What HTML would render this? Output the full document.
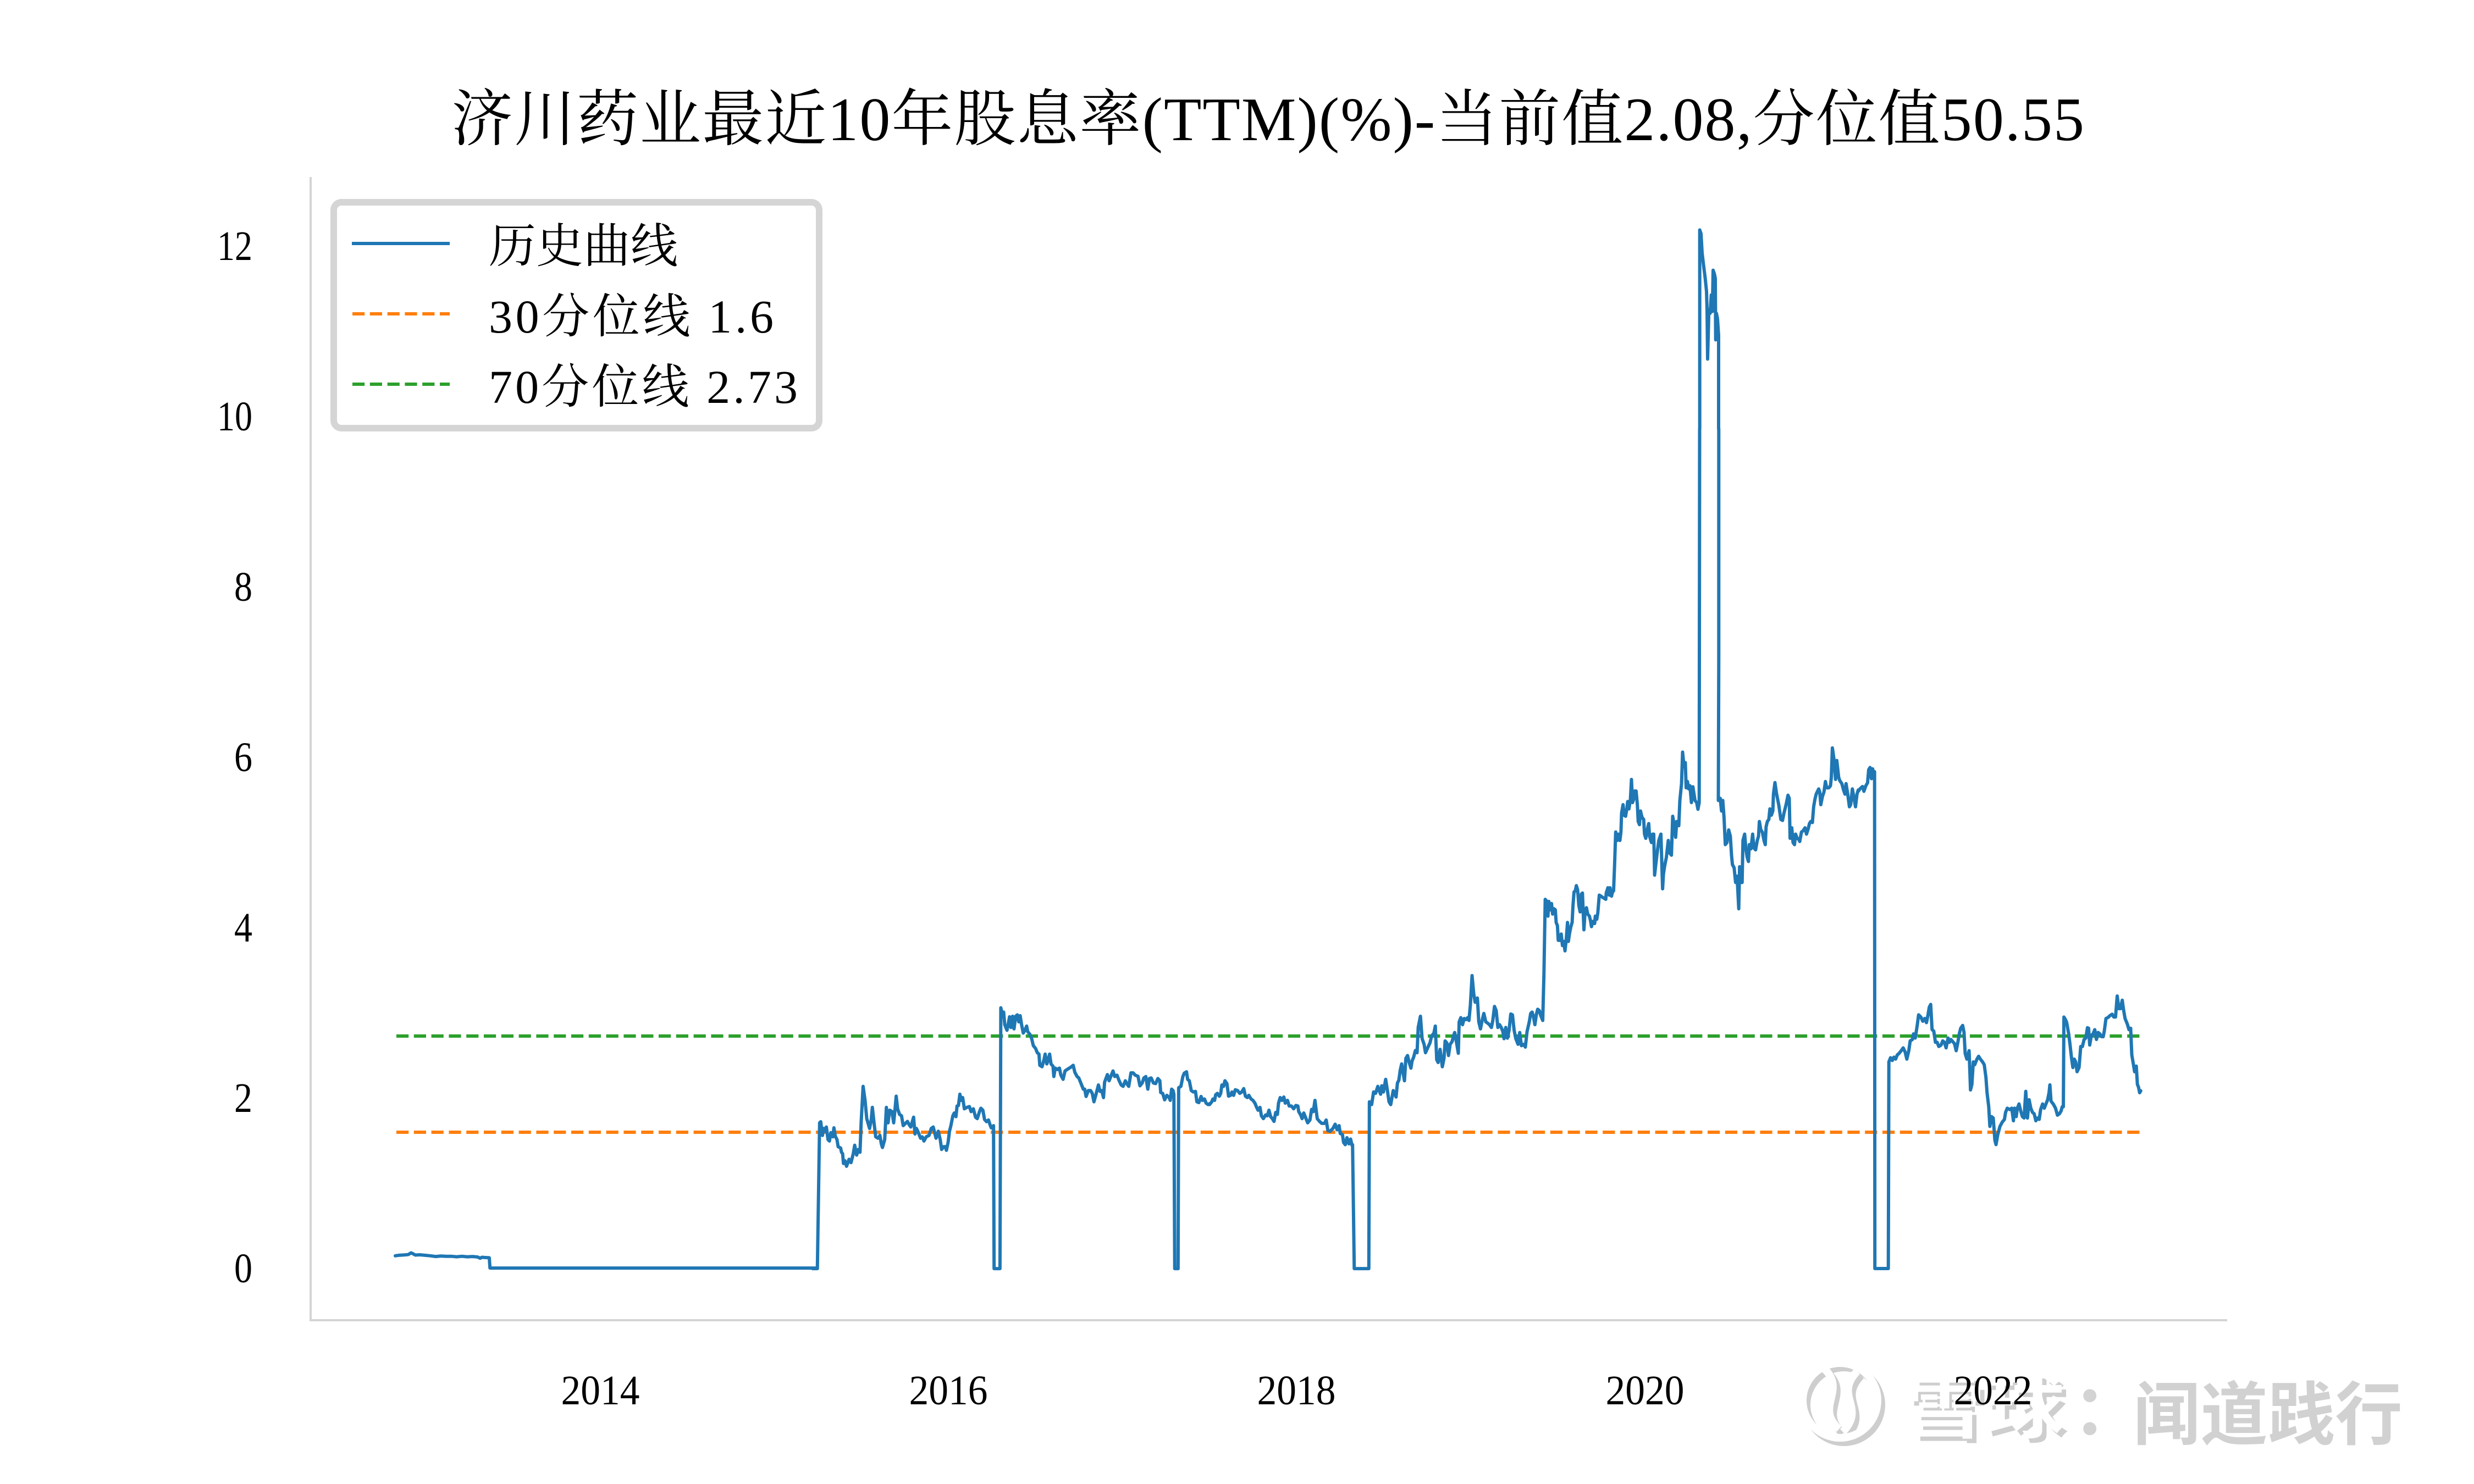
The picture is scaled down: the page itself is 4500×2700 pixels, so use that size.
<!DOCTYPE html>
<html>
<head>
<meta charset="utf-8">
<style>
  html, body { margin: 0; padding: 0; background: #ffffff; }
  svg { display: block; }
  .serif { font-family: "Liberation Serif", "Noto Serif CJK SC", serif; }
  .wm { font-family: "Liberation Sans", "Noto Sans CJK SC", sans-serif; font-weight: bold; }
</style>
</head>
<body>
<svg width="4500" height="2700" viewBox="0 0 4500 2700" xmlns="http://www.w3.org/2000/svg">
  <rect x="0" y="0" width="4500" height="2700" fill="#ffffff"/>

  <!-- Title -->
  <text class="serif" x="2306" y="255" text-anchor="middle" font-size="112" fill="#000" textLength="2970" lengthAdjust="spacing">济川药业最近10年股息率(TTM)(%)-当前值2.08,分位值50.55</text>

  <!-- Spines -->
  <line x1="565" y1="322" x2="565" y2="2402" stroke="#d4d4d4" stroke-width="4"/>
  <line x1="563" y1="2402" x2="4051" y2="2402" stroke="#d4d4d4" stroke-width="4"/>

  <!-- Percentile lines -->
  <line x1="721" y1="2060" x2="3892" y2="2060" stroke="#ff7f0e" stroke-width="6" stroke-dasharray="22.2 9.6"/>
  <line x1="721" y1="1885" x2="3892" y2="1885" stroke="#2ca02c" stroke-width="6" stroke-dasharray="22.2 9.6"/>

  <!-- Data series -->
  <g fill="none" stroke="#1f77b4" stroke-linejoin="round" stroke-linecap="round">
    <polyline vector-effect="non-scaling-stroke" stroke-width="6" transform="translate(550,1950) scale(0.6378,0.4464)"
      points="265,750 275,748 285,747 295,746 302,745 310,738 316,742 322,747 335,746 350,748 365,750 380,753 395,751 410,752 425,752 440,754 455,752 470,754 485,753 500,755 507,760 512,756 520,757 533,758 535,800 1468,800"/>
    <polyline vector-effect="non-scaling-stroke" stroke-width="6" transform="translate(1450,1650) scale(0.5102)"
      points="55,1290 72,1290 80,770 84,766 90,815 95,790 100,800 104,785 110,830 115,835 120,805 127,820 131,788 136,818 142,830 146,855 155,860 158,875 162,880 165,915 170,905 176,925 185,900 192,912 200,880 205,850 212,885 218,865 224,875 228,770 235,640 242,690 248,755 258,790 264,760 268,715 274,770 280,820 288,825 295,815 300,845 304,858 312,830 318,715 324,770 330,725 338,730 344,770 349,720 353,675 358,720 365,740 372,745 378,780 388,770 393,765 400,778 405,785 415,750 420,810 425,790 430,800 440,825 446,820 452,835 460,820 470,815 478,790 485,785 495,825 503,800 510,830 515,865 522,855 528,855 532,868 538,840 543,800 548,780 555,745 560,735 566,748 570,710 575,708 580,668 585,690 590,680 596,720 605,715 614,712 620,730 628,720 636,750 642,755 650,730 655,718 662,725 668,758 675,766 682,760 688,778 692,788 700,780 702,1290 723,1290 726,360 731,380 736,375 740,420 748,440 753,415 757,392 762,430 768,390 773,435 779,390 785,385 790,410 795,388 800,420 806,450 812,440 818,425 822,445 830,455 836,470 842,495 850,505 856,520 862,525 865,565 873,570 880,545 884,525 890,560 895,545 900,525 905,560 912,568 915,605 920,575 928,580 935,575 940,600 948,615 955,585 962,580 975,572 984,565 990,590 998,605 1004,610 1012,630 1020,650 1025,650 1030,676 1038,655 1046,655 1052,665 1058,695 1065,670 1074,635 1080,658 1086,655 1092,680 1096,625 1106,598 1112,620 1120,600 1126,585 1132,605 1140,600 1148,620 1155,635 1162,640 1170,620 1175,630 1182,640 1190,592 1198,592 1205,600 1215,604 1222,638 1230,628 1236,610 1243,605 1250,650 1256,612 1262,610 1270,628 1278,630 1286,612 1293,620 1296,662 1303,665 1310,688 1318,672 1326,680 1330,690 1335,650 1340,655 1343,668 1346,1290 1358,1290 1360,645 1368,640 1375,605 1380,593 1388,588 1392,615 1398,620 1405,655 1412,660 1420,658 1425,695 1432,698 1440,676 1445,690 1452,685 1458,700 1465,705 1470,702"/>
    <polyline vector-effect="non-scaling-stroke" stroke-width="6" transform="translate(2200,1650) scale(0.5102)"
      points="0,705 8,695 12,685 18,690 22,670 28,665 35,675 40,665 44,635 50,640 55,620 62,630 68,675 75,672 80,660 86,672 92,652 100,655 108,665 115,660 122,648 128,675 135,680 140,672 148,685 155,690 162,700 168,715 173,725 180,715 185,745 192,755 200,742 206,745 212,725 218,748 224,755 230,765 236,733 242,740 246,700 252,680 258,690 265,678 270,700 278,690 284,710 292,710 300,720 308,708 315,710 318,730 325,742 330,755 336,735 342,750 350,770 358,760 364,722 370,730 376,690 384,755 392,765 400,772 410,772 416,760 422,798 430,800 440,790 448,775 455,795 462,780 466,808 474,812 478,840 484,848 490,823 497,845 503,828 508,850 510,848 516,1290 568,1290 570,695 578,705 585,660 592,665 600,640 605,655 610,668 614,638 620,660 628,615 635,660 640,695 646,705 655,655 660,665 665,678 670,628 675,618 680,582 685,560 690,590 695,620 700,540 706,530 712,555 718,575 722,550 728,535 734,512 740,520 744,430 752,390 758,470 765,490 770,520 778,502 786,485 792,460 800,450 805,425 810,545 815,555 822,508 830,570 836,540 840,478 846,485 852,530 858,490 865,480 870,460 874,448 880,480 887,522 890,410 896,395 902,420 908,398 915,402 920,395 925,405 930,350 936,245 942,310 947,340 955,325 960,410 966,435 972,405 978,380 985,410 992,415 998,420 1005,430 1010,405 1016,355 1022,370 1028,430 1034,420 1040,430 1046,445 1050,470 1056,430 1062,468 1068,440 1074,382 1080,385 1086,440 1092,470 1100,490 1106,448 1112,495 1120,490 1126,500 1132,445 1140,410 1145,380 1150,375 1155,392 1160,420 1165,385 1170,365 1176,370 1180,385 1188,405 1192,250"/>
    <polyline vector-effect="non-scaling-stroke" stroke-width="6" transform="translate(2780,1200) scale(0.38265)"
      points="73.7,1510 80,1140 88,1150 93,1220 97,1150 103,1190 110,1160 115,1210 122,1185 128,1190 132,1250 138,1265 142,1335 150,1335 156,1305 162,1360 168,1340 174,1385 180,1330 186,1250 190,1340 196,1300 202,1270 208,1250 212,1170 217,1105 223,1100 228,1075 234,1095 240,1170 246,1200 252,1115 257,1110 264,1285 270,1190 276,1180 282,1210 290,1220 295,1240 300,1270 306,1245 315,1255 318,1220 325,1235 330,1205 337,1120 345,1125 352,1130 360,1135 368,1140 370,1110 378,1085 384,1120 388,1085 395,1125 400,1105 405,1100 410,970 415,820 422,860 428,830 435,860 440,820 443,730 450,690 455,740 462,745 468,710 472,675 478,710 485,665 490,570 495,680 500,665 505,625 512,625 518,690 522,770 528,785 533,720 540,750 548,760 552,830 558,850 565,810 572,780 576,840 585,870 590,830 596,830 600,1025 605,980 612,920 620,860 630,830 638,1090 642,1020 648,980 656,940 665,860 672,920 680,930 686,745 692,780 700,845 705,770 715,790 720,670 728,590 733,440 740,510 746,490 750,610 756,580 762,615 768,600 775,680 782,605 792,670 800,680 806,712 812,680 814,-1097"/>
    <polyline vector-effect="non-scaling-stroke" stroke-width="6" transform="translate(2950,380) scale(0.33333)"
      points="425,1200 425,115 432,135 438,240 445,300 455,380 462,450 465,550 468,820 475,550 482,570 488,470 494,560 498,335 505,355 510,380 512,715 516,570 522,600 528,690 528,1200"/>
    <polyline vector-effect="non-scaling-stroke" stroke-width="6" transform="translate(2780,1200) scale(0.38265)"
      points="905,-1097 905,0 903,670 912,660 918,720 924,670 930,750 936,880 944,870 952,810 960,840 966,935 970,975 978,990 985,1060 992,1030 1000,1185 1004,985 1010,1060 1016,1060 1020,860 1028,830 1034,900 1040,940 1046,960 1050,880 1058,900 1066,830 1072,895 1080,905 1088,860 1094,840 1098,770 1105,810 1112,820 1120,860 1126,880 1130,795 1136,770 1143,760 1148,710 1155,740 1162,720 1165,640 1172,585 1180,640 1190,690 1200,760 1208,765 1215,730 1225,690 1234,645 1240,660 1244,850 1252,800 1258,870 1265,880 1270,830 1278,850 1285,855 1290,865 1298,820 1305,815 1315,800 1322,830 1330,805 1336,780 1342,770 1350,775 1356,700 1362,665 1368,640 1375,625 1380,615 1385,630 1390,690 1398,650 1405,630 1412,580 1418,610 1428,610 1436,600 1440,560 1445,420 1452,470 1460,570 1466,480 1475,560 1480,575 1490,590 1498,620 1505,640 1510,590 1518,640 1526,700 1532,690 1540,615 1548,660 1555,700 1562,640 1568,620"/>
    <polyline vector-effect="non-scaling-stroke" stroke-width="6" transform="translate(3250,1330) scale(0.5102)"
      points="255,215 262,205 270,198 275,215 282,195 288,185 292,138 297,130 302,170 306,135 310,150 313,145 314,1917 362,1917 364,1180 370,1165 376,1175 382,1163 388,1170 394,1155 400,1150 408,1140 415,1130 422,1145 428,1170 435,1140 440,1105 448,1100 452,1080 458,1095 465,1050 470,1012 478,1020 485,1035 492,1025 498,1040 503,1015 508,985 513,975 518,1065 524,1070 530,1110 536,1110 542,1125 550,1120 556,1105 562,1110 568,1130 575,1095 580,1110 585,1100 592,1108 598,1115 604,1140 610,1110 615,1080 620,1060 627,1050 632,1075 636,1150 642,1170 650,1140 655,1280 660,1260 665,1180 670,1190 678,1170 684,1160 690,1170 698,1180 704,1190 710,1235 714,1290 720,1340 724,1410 730,1375 736,1380 742,1460 746,1475 752,1440 760,1410 768,1395 776,1385 780,1360 786,1345 795,1350 802,1345 808,1390 812,1345 818,1375 822,1345 828,1330 834,1355 840,1375 846,1380 852,1285 858,1380 864,1315 870,1345 876,1360 882,1365 888,1390 894,1380 900,1385 905,1350 912,1330 918,1345 924,1330 930,1315 935,1290 938,1262 942,1320 950,1330 958,1345 965,1370 972,1365 978,1355 982,1340 986,1340 988,1020 994,1030 998,1040 1005,1080 1010,1120 1015,1165 1020,1200 1025,1170 1030,1180 1035,1215 1042,1200 1048,1125 1054,1125 1060,1100 1066,1095 1072,1058 1076,1060 1080,1120 1086,1085 1092,1080 1098,1065 1104,1100 1110,1075 1116,1080 1122,1090 1128,1090 1132,1070 1138,1025 1145,1022 1152,1015 1160,1010 1166,1020 1172,1020 1178,945 1184,990 1190,990 1196,960 1200,990 1206,1025 1214,1045 1220,1065 1226,1060 1230,1155 1236,1190 1240,1215 1246,1195 1250,1260 1254,1270 1258,1290 1262,1283"/>
  </g>

  <!-- Legend -->
  <rect x="607" y="368" width="883" height="411" rx="14" ry="14" fill="#ffffff" stroke="#d5d5d5" stroke-width="12"/>
  <line x1="640" y1="443" x2="818" y2="443" stroke="#1f77b4" stroke-width="6"/>
  <line x1="641" y1="571" x2="818" y2="571" stroke="#ff7f0e" stroke-width="6" stroke-dasharray="22.2 9.6"/>
  <line x1="641" y1="699" x2="818" y2="699" stroke="#2ca02c" stroke-width="6" stroke-dasharray="22.2 9.6"/>
  <text class="serif" x="889" y="477" font-size="86" fill="#000" textLength="344" lengthAdjust="spacing">历史曲线</text>
  <text class="serif" x="889" y="605" font-size="86" fill="#000" textLength="518" lengthAdjust="spacing">30分位线 1.6</text>
  <text class="serif" x="889" y="733" font-size="86" fill="#000" textLength="562" lengthAdjust="spacing">70分位线 2.73</text>

  <!-- Watermark -->
  <g opacity="0.9">
    <g fill="none" stroke="#c9c9c9" stroke-width="14" transform="translate(7,8)">
      <circle cx="3347" cy="2548" r="68"/>
      <path d="M3318,2490 C3360,2530 3300,2560 3345,2600 M3378,2495 C3335,2540 3395,2560 3352,2605"/>
    </g>
    <g fill="none" stroke="#ffffff" stroke-width="14">
      <circle cx="3347" cy="2548" r="68"/>
      <path d="M3318,2490 C3360,2530 3300,2560 3345,2600 M3378,2495 C3335,2540 3395,2560 3352,2605"/>
    </g>
    <text class="wm" x="3473" y="2614" font-size="125" fill="#c9c9c9" textLength="290" lengthAdjust="spacingAndGlyphs">雪球</text>
    <text class="wm" x="3465" y="2606" font-size="125" fill="#ffffff" textLength="290" lengthAdjust="spacingAndGlyphs">雪球</text>
    <text class="wm" x="3770" y="2610" font-size="125" fill="#cfcfcf">：</text>
    <text class="wm" x="3872" y="2612" font-size="125" fill="#ffffff" textLength="490" lengthAdjust="spacingAndGlyphs">闻道践行</text>
    <text class="wm" x="3880" y="2618" font-size="125" fill="#cdcdcd" textLength="490" lengthAdjust="spacingAndGlyphs">闻道践行</text>
  </g>

  <!-- Y tick labels -->
  <g class="serif" font-size="76" fill="#000" text-anchor="end">
    <text x="459" y="2333" textLength="33" lengthAdjust="spacingAndGlyphs">0</text>
    <text x="459" y="2023" textLength="33" lengthAdjust="spacingAndGlyphs">2</text>
    <text x="459" y="1713" textLength="33" lengthAdjust="spacingAndGlyphs">4</text>
    <text x="459" y="1403" textLength="33" lengthAdjust="spacingAndGlyphs">6</text>
    <text x="459" y="1093" textLength="33" lengthAdjust="spacingAndGlyphs">8</text>
    <text x="459" y="783" textLength="64" lengthAdjust="spacingAndGlyphs">10</text>
    <text x="459" y="473" textLength="64" lengthAdjust="spacingAndGlyphs">12</text>
  </g>

  <!-- X tick labels -->
  <g class="serif" font-size="76" fill="#000" text-anchor="middle">
    <text x="1092" y="2555" textLength="143" lengthAdjust="spacingAndGlyphs">2014</text>
    <text x="1725" y="2555" textLength="143" lengthAdjust="spacingAndGlyphs">2016</text>
    <text x="2358" y="2555" textLength="143" lengthAdjust="spacingAndGlyphs">2018</text>
    <text x="2992" y="2555" textLength="143" lengthAdjust="spacingAndGlyphs">2020</text>
    <text x="3625" y="2555" textLength="143" lengthAdjust="spacingAndGlyphs">2022</text>
  </g>
</svg>
</body>
</html>
